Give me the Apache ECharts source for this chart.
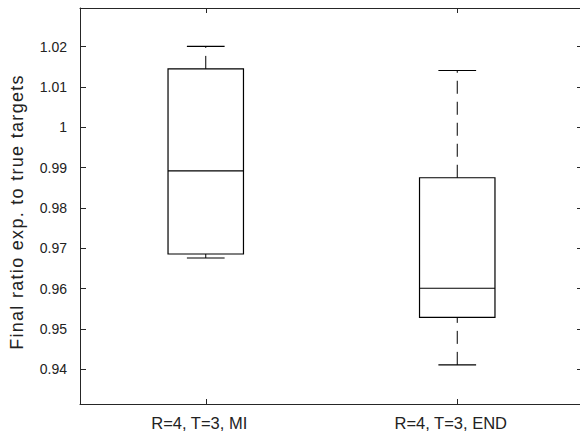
<!DOCTYPE html>
<html>
<head>
<meta charset="utf-8">
<script src="https://cdn.jsdelivr.net/npm/echarts@6/dist/echarts.min.js"></script>
<style>
html,body{margin:0;padding:0;background:#fff;}
#c{width:580px;height:433px;}
</style>
</head>
<body>
<div id="c"></div>
<script>
const categories = ['R=4, T=3, MI', 'R=4, T=3, END'];
const whiskerLow = [0.9676, 0.9411];
const q1 = [0.9686, 0.9529];
const median = [0.9892, 0.9601];
const q3 = [1.0145, 0.9875];
const whiskerHigh = [1.0201, 1.0141];
const yTicks = [0.94, 0.95, 0.96, 0.97, 0.98, 0.99, 1.00, 1.01, 1.02];
const yMin = 0.9314, yMax = 1.0296;
const yName = 'Final ratio exp. to true targets';

const boxData = categories.map((c, i) => [i, whiskerLow[i], q1[i], median[i], q3[i], whiskerHigh[i]]);

const chart = echarts.init(document.getElementById('c'), null, {renderer: 'svg'});
const lineCol = '#000';
const axisCol = '#262626';
const fontFam = 'Liberation Sans, Arial, Helvetica, sans-serif';

function renderItem(params, api) {
  const idx = api.value(0);
  const pLow = api.coord([idx, api.value(1)]);
  const pQ1 = api.coord([idx, api.value(2)]);
  const pMed = api.coord([idx, api.value(3)]);
  const pQ3 = api.coord([idx, api.value(4)]);
  const pHigh = api.coord([idx, api.value(5)]);
  const bw = api.size([1, 0])[0] * 0.3;
  const cw = bw / 2;
  const x = pMed[0];
  const solid = {stroke: lineCol, lineWidth: 1.2, fill: null};
  const dashed = {stroke: lineCol, lineWidth: 1, lineDash: [13, 8], fill: null};
  return {
    type: 'group',
    children: [
      {type: 'line', shape: {x1: x, y1: pQ3[1], x2: x, y2: pHigh[1]}, style: dashed},
      {type: 'line', shape: {x1: x, y1: pLow[1], x2: x, y2: pQ1[1]}, style: dashed},
      {type: 'line', shape: {x1: x - cw / 2, y1: pHigh[1], x2: x + cw / 2, y2: pHigh[1]}, style: solid},
      {type: 'line', shape: {x1: x - cw / 2, y1: pLow[1], x2: x + cw / 2, y2: pLow[1]}, style: solid},
      {type: 'rect', shape: {x: x - bw / 2, y: pQ3[1], width: bw, height: pQ1[1] - pQ3[1]}, style: solid},
      {type: 'line', shape: {x1: x - bw / 2, y1: pMed[1], x2: x + bw / 2, y2: pMed[1]}, style: solid}
    ]
  };
}

const option = {
  animation: false,
  backgroundColor: '#fff',
  grid: {left: 80, top: 8, width: 503, height: 396, containLabel: false, outerBoundsMode: 'none'},
  xAxis: [
    {
      type: 'category', data: categories, boundaryGap: true, position: 'bottom',
      axisLine: {show: true, lineStyle: {color: axisCol, width: 1}},
      axisTick: {show: true, inside: true, length: 5, alignWithLabel: true, lineStyle: {color: axisCol}},
      axisLabel: {show: true, color: '#222', fontSize: 16.5, fontFamily: fontFam, margin: 10, padding: [0, 13, 0, 0]},
      splitLine: {show: false}
    },
    {
      type: 'category', data: categories, boundaryGap: true, position: 'top',
      axisLine: {show: true, lineStyle: {color: axisCol, width: 1}},
      axisTick: {show: true, inside: true, length: 5, alignWithLabel: true, lineStyle: {color: axisCol}},
      axisLabel: {show: false}, splitLine: {show: false}
    }
  ],
  yAxis: [
    {
      type: 'value', min: yMin, max: yMax, position: 'left',
      name: yName, nameLocation: 'middle', nameGap: 54,
      nameTextStyle: {fontSize: 18, color: '#222', fontFamily: fontFam, padding: [0, 12, 0, 0]},
      axisLine: {show: true, lineStyle: {color: axisCol, width: 1}},
      axisTick: {show: true, inside: true, length: 6, customValues: yTicks, lineStyle: {color: axisCol}},
      axisLabel: {show: true, customValues: yTicks, color: '#222', fontSize: 14, fontFamily: fontFam, margin: 13,
        formatter: v => String(+(+v).toFixed(2))},
      splitLine: {show: false}
    },
    {
      type: 'value', min: yMin, max: yMax, position: 'right',
      axisLine: {show: true, lineStyle: {color: axisCol, width: 1}},
      axisTick: {show: true, inside: true, length: 6, customValues: yTicks, lineStyle: {color: axisCol}},
      axisLabel: {show: false}, splitLine: {show: false}
    }
  ],
  series: [{
    type: 'custom',
    renderItem: renderItem,
    xAxisIndex: 0, yAxisIndex: 0,
    encode: {x: 0, y: [1, 2, 3, 4, 5]},
    data: boxData,
    clip: false
  }]
};
chart.setOption(option);
document.querySelectorAll('#c svg text').forEach(t => {
  if (t.textContent === yName) {
    t.style.letterSpacing = '1.3px';
  }
});
</script>
</body>
</html>
